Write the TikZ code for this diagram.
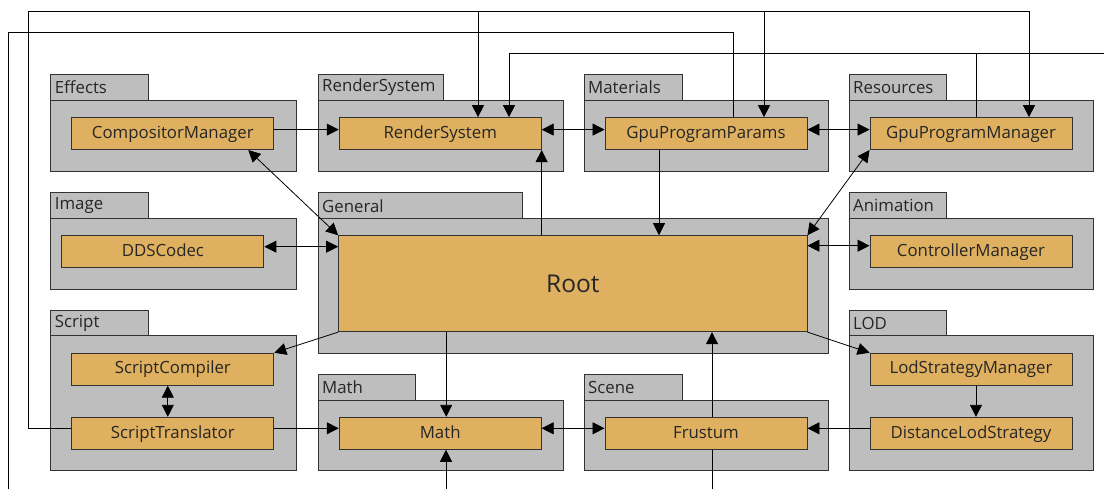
\documentclass[tikz,border=0pt]{standalone}
\usepackage{fontspec}
\setmainfont{Open Sans}
\usetikzlibrary{arrows.meta}
\definecolor{pkggray}{RGB}{190,190,190}
\definecolor{clsfill}{RGB}{222,176,95}
\definecolor{edge}{RGB}{50,50,50}
\tikzset{
  cls/.style={draw=edge, fill=clsfill, line width=0.9pt, minimum width=202pt,
    minimum height=32pt, inner sep=0pt, text height=12pt, text depth=2.5pt,
    text=black!85, font=\fontsize{16.8}{18}\selectfont},
  pkglabel/.style={anchor=west, inner sep=0pt, text=black!85, font=\fontsize{16.8}{18}\selectfont},
  arr/.style={-{Triangle[length=12pt,width=12pt]}, line width=0.8pt},
  dbl/.style={{Triangle[length=12pt,width=12pt]}-{Triangle[length=12pt,width=12pt]}, line width=0.8pt},
  wire/.style={line width=0.8pt},
}
% package = tab + body
\newcommand{\pkgbox}[6]{%
  \draw[draw=edge, fill=pkggray, line width=0.9pt] (#2,#3-25.6) rectangle (#6,#3);
  \draw[draw=edge, fill=pkggray, line width=0.9pt] (#2,#3) rectangle (#4,#5);
  \node[pkglabel] at (#2+4,#3-12.5) {#1};
}
\begin{document}
\begin{tikzpicture}[x=1pt, y=-1pt]
\useasboundingbox (0,0) rectangle (1104,489);

% packages
\pkgbox{Effects}{50.7}{100}{296.4}{171}{148.6}
\pkgbox{RenderSystem}{318}{100}{563}{171}{443.6}
\pkgbox{Materials}{584}{100}{828}{171}{682}
\pkgbox{Resources}{849}{100}{1093}{171}{946}
\pkgbox{Image}{50.7}{218.3}{296.4}{289}{148.6}
\pkgbox{General}{318}{218.3}{828}{353.3}{522.5}
\pkgbox{Animation}{849}{218.3}{1093}{289}{946}
\pkgbox{Script}{50.7}{335.7}{296.4}{470.7}{148.6}
\pkgbox{Math}{318}{400}{563}{470.7}{415.4}
\pkgbox{Scene}{584}{400}{828}{470.7}{682}
\pkgbox{LOD}{849}{335.7}{1093}{470.7}{946}

% classes
\node[cls] (cm) at (172.8,133.6) {CompositorManager};
\node[cls] (rs) at (440.2,133.6) {RenderSystem};
\node[cls] (gpp) at (706,133.6) {GpuProgramParams};
\node[cls] (gpm) at (971,133.6) {GpuProgramManager};
\node[cls] (dds) at (162.9,251.7) {DDSCodec};
\node[cls, minimum width=468.4pt, minimum height=96pt, text height=17.5pt,
  text depth=0pt, font=\fontsize{24.5}{27}\selectfont] (root) at (572.8,283.7) {Root};
\node[cls] (ctrl) at (971,251.7) {ControllerManager};
\node[cls] (sc) at (172.8,369.2) {ScriptCompiler};
\node[cls] (st) at (172.8,433.3) {ScriptTranslator};
\node[cls] (math) at (440.2,433.3) {Math};
\node[cls] (fr) at (706,433.3) {Frustum};
\node[cls] (lsm) at (971,369.2) {LodStrategyManager};
\node[cls] (dls) at (971,433.3) {DistanceLodStrategy};

% bus corners and loose ends
\coordinate (busa) at (28,11);
\coordinate (taprs) at (478,11);
\coordinate (tapgpp) at (764,11);
\coordinate (busb) at (8,32);
\coordinate (busc) at (509,53);
\coordinate (tapgpm) at (976,53);
\coordinate (offl) at (8,489);
\coordinate (offr) at (1104,53);
\coordinate (offm) at (446,489);
\coordinate (offf) at (712,489);

% long wires over the top
\draw[arr] ([yshift=5pt]st.west) -| (busa) -| ([xshift=58pt]gpm.north);
\draw[arr] (taprs) -- (taprs |- rs.north);
\draw[arr] (tapgpp) -- (tapgpp |- gpp.north);
\draw[wire] ([xshift=27pt]gpp.north) |- (busb) -- (offl);
\draw[arr] ([xshift=5pt]gpm.north) |- (busc) -- (busc |- rs.north);
\draw[wire] (tapgpm) -- (offr);

% top row
\draw[arr] ([yshift=4pt]cm.east) -- ([yshift=4pt]rs.west);
\draw[dbl] ([yshift=4pt]rs.east) -- ([yshift=4pt]gpp.west);
\draw[dbl] ([yshift=4pt]gpp.east) -- ([yshift=4pt]gpm.west);

% around root
\draw[dbl] ([xshift=-26pt]cm.south east) -- (root.north west);
\draw[arr] (root.north -| rs.south east) -- (rs.south east);
\draw[arr] ([xshift=-47pt]gpp.south) -- ([xshift=-47pt]gpp.south |- root.north);
\draw[dbl] (gpm.south west) -- (root.north east);
\draw[dbl] ([yshift=5pt]dds.east) -- ([yshift=5pt]dds.east -| root.west);
\draw[dbl] ([yshift=6pt]ctrl.west -| root.east) -- ([yshift=6pt]ctrl.west);
\draw[arr] (root.south west) -- (sc.north east);
\draw[arr] ([xshift=6pt]math.north |- root.south) -- ([xshift=6pt]math.north);
\draw[arr] ([xshift=6pt]fr.north) -- ([xshift=6pt]fr.north |- root.south);
\draw[arr] (root.south east) -- (lsm.north west);

% bottom row
\draw[dbl] ([xshift=-5pt]sc.south) -- ([xshift=-5pt]st.north);
\draw[arr] ([yshift=5pt]st.east) -- ([yshift=5pt]math.west);
\draw[dbl] ([yshift=5pt]math.east) -- ([yshift=5pt]fr.west);
\draw[arr] ([yshift=5pt]dls.west) -- ([yshift=5pt]fr.east);
\draw[arr] ([xshift=5pt]lsm.south) -- ([xshift=5pt]dls.north);
\draw[arr] (offm) -- (offm |- math.south);
\draw[wire] ([xshift=6pt]fr.south) -- (offf);
\end{tikzpicture}
\end{document}
